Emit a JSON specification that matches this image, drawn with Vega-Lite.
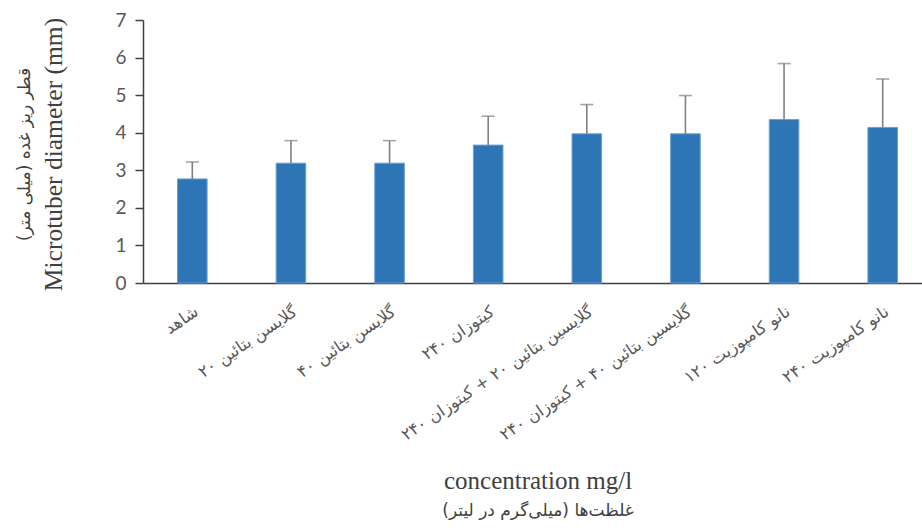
{
  "$schema": "https://vega.github.io/schema/vega-lite/v6.json",
  "width": 789,
  "height": 263,
  "autosize": {"type": "none"},
  "padding": {"left": 143, "top": 20, "right": 0, "bottom": 249},
  "background": "white",
  "config": {"view": {"stroke": null}, "axis": {"grid": false}},
  "data": {
    "values": [
      {"group": "شاهد", "mean": 2.77, "upper": 3.22},
      {"group": "گلایسن بتائین ۲۰", "mean": 3.19, "upper": 3.79},
      {"group": "گلایسن بتائین ۴۰", "mean": 3.19, "upper": 3.79},
      {"group": "کیتوزان ۲۴۰", "mean": 3.67, "upper": 4.44},
      {"group": "گلایسین بتائین ۲۰ + کیتوزان ۲۴۰", "mean": 3.97, "upper": 4.75},
      {"group": "گلایسین بتائین ۴۰ + کیتوزان ۲۴۰", "mean": 3.97, "upper": 4.99},
      {"group": "نانو کامپوزیت ۱۲۰", "mean": 4.35, "upper": 5.84},
      {"group": "نانو کامپوزیت ۲۴۰", "mean": 4.14, "upper": 5.43}
    ]
  },
  "layer": [
    {
      "mark": {"type": "bar", "color": "#2e75b6", "stroke": "#6a9fd3", "strokeWidth": 1},
      "encoding": {
        "x": {
          "field": "group", "type": "nominal", "sort": null,
          "scale": {"paddingInner": 0.7, "paddingOuter": 0.35},
          "axis": {
            "orient": "bottom",
            "title": "concentration mg/l",
            "titleFont": "Liberation Serif", "titleFontSize": 25, "titleFontWeight": "normal",
            "titleColor": "#404040", "titleX": 394.5, "titleY": 205, "titleBaseline": "alphabetic", "titleAlign": "center",
            "labelAngle": -34, "labelFont": "DejaVu Sans", "labelFontSize": 16.5, "labelColor": "#595959",
            "labelLimit": 400, "labelPadding": 20,
            "ticks": false, "domainColor": "#404040", "domainWidth": 1.5
          }
        },
        "y": {
          "field": "mean", "type": "quantitative",
          "scale": {"domain": [0, 7], "nice": false},
          "axis": {
            "orient": "left",
            "values": [0, 1, 2, 3, 4, 5, 6, 7],
            "title": "Microtuber diameter (mm)",
            "titleFont": "Liberation Serif", "titleFontSize": 25.5, "titleFontWeight": "normal",
            "titleColor": "#404040", "titleX": -90, "titleY": 134, "titleBaseline": "middle", "titleAlign": "center", "titleAngle": -90,
            "labelFont": "Lato", "labelFontSize": 19, "labelColor": "#595959", "labelPadding": 9,
            "tickSize": 8, "tickColor": "#404040", "tickWidth": 1.5,
            "domainColor": "#404040", "domainWidth": 1.5
          }
        }
      }
    },
    {
      "mark": {"type": "rule", "color": "#808080", "strokeWidth": 1.6},
      "encoding": {
        "x": {"field": "group", "type": "nominal", "sort": null, "axis": null},
        "y": {"field": "mean", "type": "quantitative", "scale": {"domain": [0, 7], "nice": false}, "axis": null},
        "y2": {"field": "upper"}
      }
    },
    {
      "mark": {"type": "tick", "color": "#808080", "thickness": 1.6, "size": 13},
      "encoding": {
        "x": {"field": "group", "type": "nominal", "sort": null, "axis": null},
        "y": {"field": "upper", "type": "quantitative", "scale": {"domain": [0, 7], "nice": false}, "axis": null}
      }
    },
    {
      "mark": {"type": "point", "opacity": 0},
      "encoding": {
        "x": {
          "field": "group", "type": "nominal", "sort": null,
          "axis": {
            "orient": "bottom",
            "title": "غلظت‌ها (میلی‌گرم در لیتر)‏",
            "labels": false, "ticks": false, "domain": false,
            "titleFont": "DejaVu Sans", "titleFontSize": 17, "titleFontWeight": "normal", "titleColor": "#404040",
            "titleX": 394.5, "titleY": 232, "titleBaseline": "alphabetic", "titleAlign": "center"
          }
        },
        "y": {
          "field": "mean", "type": "quantitative", "scale": {"domain": [0, 7], "nice": false},
          "axis": {
            "orient": "left",
            "title": "قطر ریز غده (میلی متر)‏",
            "labels": false, "ticks": false, "domain": false,
            "titleFont": "DejaVu Sans", "titleFontSize": 17, "titleFontWeight": "normal", "titleColor": "#404040",
            "titleX": -119, "titleY": 134, "titleBaseline": "middle", "titleAlign": "center", "titleAngle": -90
          }
        }
      }
    }
  ],
  "resolve": {"axis": {"x": "independent", "y": "independent"}}
}
